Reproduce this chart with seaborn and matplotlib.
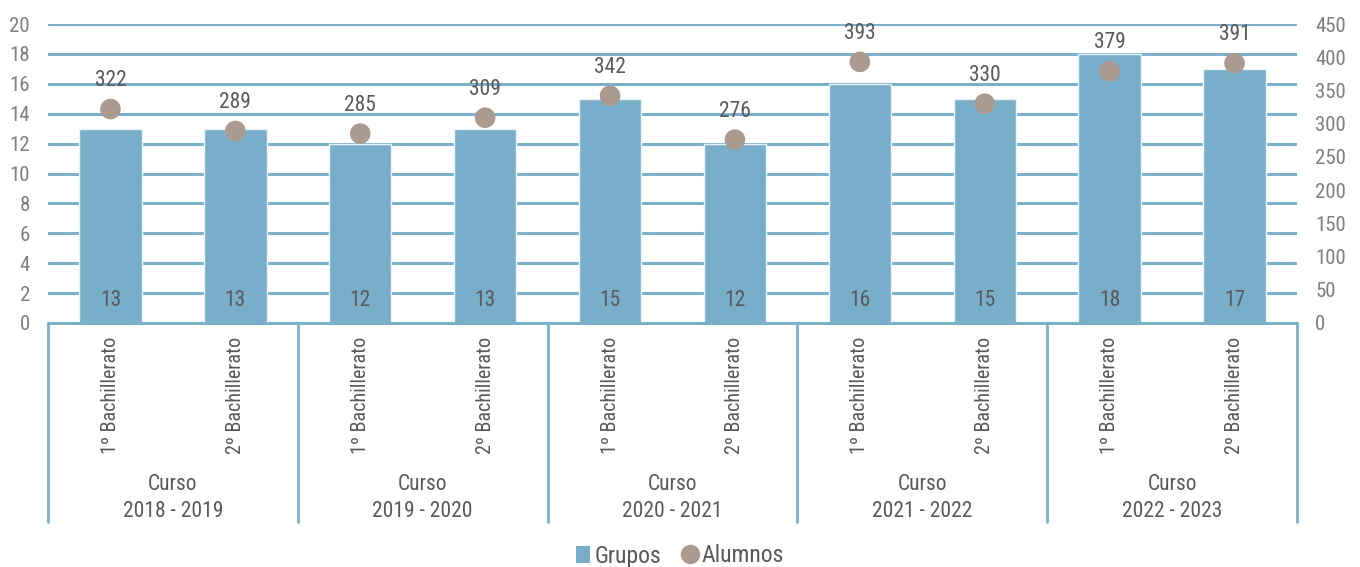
import matplotlib
matplotlib.use("Agg")
import matplotlib.pyplot as plt
import matplotlib.font_manager as fm
import matplotlib.transforms as mtransforms
from matplotlib.lines import Line2D
from matplotlib.patches import Patch
import seaborn as sns
import pandas as pd

cursos = ["Curso\n2018 - 2019", "Curso\n2019 - 2020", "Curso\n2020 - 2021",
          "Curso\n2021 - 2022", "Curso\n2022 - 2023"]
niveles = ["1º Bachillerato", "2º Bachillerato"]
grupos = [13, 13, 12, 13, 15, 12, 16, 15, 18, 17]
alumnos = [322, 289, 285, 309, 342, 276, 393, 330, 379, 391]

sns.set_theme(style="white")
names = {f.name for f in fm.fontManager.ttflist}
fam = "Liberation Sans Narrow" if "Liberation Sans Narrow" in names else "Roboto Condensed" if "Roboto Condensed" in names else "Liberation Sans"
plt.rcParams["font.family"] = [fam, "DejaVu Sans"]

BAR = "#78aec9"
DOT = "#aa9a8f"
GRID = "#7ab0c9"
TXT = "#595959"
TICK = "#7f7f7f"

labels = [f"{i}|{n}" for i, (c) in enumerate(cursos) for n in niveles]
df = pd.DataFrame({"cat": labels, "grupos": grupos, "alumnos": alumnos})

fig = plt.figure(figsize=(13.6, 5.67), dpi=100)
ax = fig.add_axes([48/1360, 1-323/567, (1297-48)/1360, (323-24)/567])
ax.set_axisbelow(True)
sns.barplot(data=df, x="cat", y="grupos", color=BAR, width=0.5, ax=ax,
            edgecolor="#eaf3f7", linewidth=1.0, saturation=1)
ax.set_ylim(0, 20)
ax.set_yticks(range(0, 21, 2))
ax.yaxis.grid(True, color=GRID, linewidth=2.2)
ax.set_xlim(-0.5, len(labels) - 0.5)
for s in ax.spines.values():
    s.set_visible(False)
ax.set_xlabel("")
ax.set_ylabel("")
ax.tick_params(axis="y", length=0, pad=13, labelsize=15, labelcolor=TICK)
ax.set_xticks(range(len(labels)))
ax.set_xticklabels([l.split("|")[1] for l in labels], rotation=90,
                   fontsize=14.5, color=TXT, va="top")
ax.tick_params(axis="x", length=0, pad=10)

for i, v in enumerate(grupos):
    ax.text(i, 0.8, str(v), ha="center", va="bottom", fontsize=15.5, color=TXT)

ax2 = ax.twinx()
sns.scatterplot(x=list(range(len(labels))), y=alumnos, ax=ax2, color=DOT, s=220,
                edgecolor="none", zorder=5)
ax2.set_ylim(0, 450)
ax2.set_yticks(range(0, 451, 50))
for s in ax2.spines.values():
    s.set_visible(False)
ax2.tick_params(axis="y", length=0, pad=13, labelsize=15, labelcolor=TICK)
ax2.grid(False)
for i, v in enumerate(alumnos):
    ax2.annotate(str(v), (i, v), xytext=(0, 13), textcoords="offset points",
                 ha="center", va="bottom", fontsize=15.5, color=TXT)

# category axis frame
trans = mtransforms.blended_transform_factory(ax.transData, ax.transAxes)
bottom = -(522-323)/299
ax.plot([-0.5, len(labels)-0.5], [0, 0], transform=trans, color=GRID, lw=2.2, clip_on=False, zorder=6)
for k in range(len(cursos) + 1):
    x = -0.5 + 2*k
    ax.plot([x, x], [0, bottom], transform=trans, color=GRID, lw=2, clip_on=False)
for k, c in enumerate(cursos):
    ax.text(2*k + 0.5, -(498-323)/299, c, transform=trans, ha="center", va="center",
            fontsize=15.5, color=TXT, linespacing=1.35)

handles = [Patch(facecolor=BAR, edgecolor="none"),
           Line2D([], [], marker="o", linestyle="none", markersize=14, markerfacecolor=DOT, markeredgecolor="none")]
fig.legend(handles, ["Grupos", "Alumnos"], loc="center", bbox_to_anchor=(0.5, 1-556/567),
           ncol=2, frameon=False, fontsize=17, handlelength=0.6, handletextpad=0.2,
           columnspacing=0.9, labelcolor=TXT, borderpad=0)

fig.savefig("out.png", dpi=100)
